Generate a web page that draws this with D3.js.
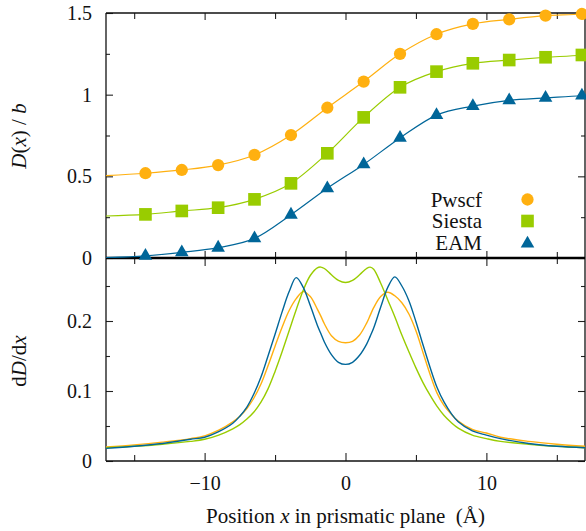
<!DOCTYPE html>
<html><head><meta charset="utf-8">
<script src="https://cdn.jsdelivr.net/npm/d3@7"></script>
<style>
body{margin:0;background:#fff}
svg{display:block}
</style>
</head><body>
<svg id="c" width="586" height="531"></svg>
<script>
// ---------- DATA ----------
const seriesNames = ["Pwscf", "Siesta", "EAM"];
const seriesColors = ["#ffb010", "#99cc00", "#006699"];

// top panel: D(x)/b at the marker positions
const markerX = [-14.2, -11.62, -9.04, -6.46, -3.87, -1.29, 1.29, 3.87, 6.46, 9.04, 11.62, 14.2, 16.78];
const pwscfD  = [0.519, 0.539, 0.569, 0.631, 0.753, 0.920, 1.080, 1.250, 1.370, 1.433, 1.461, 1.484, 1.494];
const siestaD = [0.267, 0.288, 0.308, 0.359, 0.457, 0.641, 0.861, 1.045, 1.141, 1.192, 1.212, 1.229, 1.243];
const eamD    = [0.013, 0.035, 0.063, 0.120, 0.265, 0.427, 0.573, 0.735, 0.875, 0.930, 0.965, 0.980, 0.995];

// fitted curve values at the plot edges
const edgeX      = [-17, 17];
const pwscfEdge  = [0.504, 1.497];
const siestaEdge = [0.257, 1.245];
const eamEdge    = [0.002, 0.997];

// bottom panel: dD/dx
const derivX = [-17, -15, -13, -11, -10, -9, -8, -7.5, -7, -6.5, -6, -5.5, -5, -4.5, -4, -3.5, -3, -2.5, -2, -1.75, -1.5, -1, -0.5, 0,
                0.5, 1, 1.5, 1.75, 2, 2.5, 3, 3.5, 4, 4.5, 5, 5.5, 6, 6.5, 7, 7.5, 8, 9, 10, 11, 13, 15, 17];
const pwscfDeriv = [0.020, 0.023, 0.027, 0.032, 0.036, 0.044, 0.056, 0.064, 0.075, 0.090, 0.110, 0.136, 0.164, 0.191, 0.215, 0.232, 0.242, 0.235, 0.217, 0.207, 0.196, 0.179, 0.171, 0.169,
                    0.171, 0.180, 0.197, 0.208, 0.219, 0.235, 0.241, 0.236, 0.226, 0.210, 0.186, 0.155, 0.124, 0.097, 0.079, 0.067, 0.057, 0.045, 0.040, 0.034, 0.028, 0.024, 0.021];
const siestaDeriv = [0.019, 0.021, 0.024, 0.028, 0.031, 0.037, 0.046, 0.052, 0.060, 0.070, 0.084, 0.103, 0.128, 0.156, 0.186, 0.216, 0.244, 0.265, 0.276, 0.277, 0.275, 0.266, 0.258, 0.255,
                     0.258, 0.266, 0.275, 0.277, 0.274, 0.254, 0.230, 0.206, 0.180, 0.156, 0.133, 0.112, 0.094, 0.078, 0.065, 0.055, 0.047, 0.037, 0.032, 0.028, 0.024, 0.021, 0.019];
const eamDeriv = [0.018, 0.021, 0.025, 0.031, 0.034, 0.042, 0.054, 0.064, 0.077, 0.096, 0.120, 0.150, 0.181, 0.213, 0.242, 0.262, 0.248, 0.222, 0.194, 0.182, 0.170, 0.152, 0.141, 0.138,
                  0.141, 0.151, 0.167, 0.178, 0.190, 0.220, 0.248, 0.263, 0.250, 0.229, 0.199, 0.166, 0.134, 0.105, 0.084, 0.068, 0.056, 0.043, 0.037, 0.032, 0.025, 0.021, 0.019];

// ticks
const xMajor = [-10, 0, 10];
const xMinor = [-15, -5, 5, 15];
const yTopMajor = [0, 0.5, 1, 1.5];
const yTopMinor = [0.25, 0.75, 1.25];
const yBotMajor = [0, 0.1, 0.2];
const yBotMinor = [0.05, 0.15, 0.25];

// ---------- LAYOUT ----------
const SERIF = "'Liberation Serif'";
const L = 106, R = 585, T = 13, M = 258, B = 461;
const svg = d3.select("#c");

const x  = d3.scaleLinear().domain([-17, 17]).range([L, R]);
const yT = d3.scaleLinear().domain([0, 1.5]).range([M, T]);
const yB = d3.scaleLinear().domain([0, 0.29]).range([B, M]);

const defs = svg.append("defs");
defs.append("clipPath").attr("id", "clipT").append("rect").attr("x", L).attr("y", T).attr("width", R - L).attr("height", M - T);
defs.append("clipPath").attr("id", "clipB").append("rect").attr("x", L).attr("y", M).attr("width", R - L).attr("height", B - M);

const fmt = d => (d < 0 ? "\u2212" + Math.abs(d) : String(d));

function axis(gen, tx, ty, vals, size, pad, labels) {
  const g = svg.append("g").attr("transform", `translate(${tx},${ty})`)
    .call(gen.tickValues(vals).tickSizeInner(-size).tickSizeOuter(0).tickPadding(pad)
      .tickFormat(labels ? fmt : () => ""));
  g.select(".domain").remove();
  g.attr("font-size", 20);
  g.selectAll("line").attr("stroke", "#222").attr("stroke-width", 1.1);
  g.selectAll("text").attr("fill", "#111").style("font-family", SERIF).style("font-size", "20px");
  return g;
}

// top panel ticks
axis(d3.axisLeft(yT), L, 0, yTopMajor, 7, 14, true);
axis(d3.axisLeft(yT), L, 0, yTopMinor, 4, 14, false);
axis(d3.axisRight(yT), R, 0, yTopMajor, 7, 14, false);
axis(d3.axisRight(yT), R, 0, yTopMinor, 4, 14, false);
axis(d3.axisTop(x), 0, T, xMajor, 7, 5, false);
axis(d3.axisTop(x), 0, T, xMinor, 6, 5, false);
axis(d3.axisBottom(x), 0, M, xMajor, 7, 5, false);
axis(d3.axisBottom(x), 0, M, xMinor, 6, 5, false);
// bottom panel ticks
axis(d3.axisLeft(yB), L, 0, yBotMajor, 7, 14, true);
axis(d3.axisLeft(yB), L, 0, yBotMinor, 4, 14, false);
axis(d3.axisRight(yB), R, 0, yBotMajor, 7, 14, false);
axis(d3.axisRight(yB), R, 0, yBotMinor, 4, 14, false);
axis(d3.axisTop(x), 0, M, xMajor, 8, 5, false);
axis(d3.axisTop(x), 0, M, xMinor, 6, 5, false);
axis(d3.axisBottom(x), 0, B, xMajor, 8, 15, true);
axis(d3.axisBottom(x), 0, B, xMinor, 6, 15, false);

// frame
const frame = svg.append("g").attr("stroke", "#111").attr("fill", "none");
frame.append("line").attr("x1", L).attr("x2", R).attr("y1", T).attr("y2", T).attr("stroke-width", 1.3);
frame.append("line").attr("x1", L).attr("x2", L).attr("y1", T).attr("y2", B).attr("stroke-width", 1.3);
frame.append("line").attr("x1", R).attr("x2", R).attr("y1", T).attr("y2", B).attr("stroke-width", 1.3);
frame.append("line").attr("x1", L).attr("x2", R).attr("y1", B).attr("y2", B).attr("stroke-width", 1.3);
frame.append("line").attr("x1", L).attr("x2", R).attr("y1", M).attr("y2", M).attr("stroke-width", 2.6).attr("stroke", "#000");

// ---------- TOP PANEL ----------
const topSeries = [
  { name: "Pwscf",  vals: pwscfD,  edge: pwscfEdge,  sym: d3.symbolCircle,   size: 118 },
  { name: "Siesta", vals: siestaD, edge: siestaEdge, sym: d3.symbolSquare,   size: 160 },
  { name: "EAM",    vals: eamD,    edge: eamEdge,    sym: d3.symbolTriangle, size: 80 }
];
const topLine = d3.line().x(d => x(d[0])).y(d => yT(d[1])).curve(d3.curveMonotoneX);
const gTop = svg.append("g").attr("clip-path", "url(#clipT)");
topSeries.forEach((s, i) => {
  const pts = [[edgeX[0], s.edge[0]], ...markerX.map((mx, j) => [mx, s.vals[j]]), [edgeX[1], s.edge[1]]];
  gTop.append("path").attr("d", topLine(pts)).attr("fill", "none")
    .attr("stroke", seriesColors[i]).attr("stroke-width", 1.2);
});
const gMarks = svg.append("g");
topSeries.forEach((s, i) => {
  gMarks.selectAll(null).data(markerX.map((mx, j) => [mx, s.vals[j]])).join("path")
    .attr("transform", d => `translate(${x(d[0])},${yT(d[1])})`)
    .attr("d", d3.symbol().type(s.sym).size(s.size)())
    .attr("fill", seriesColors[i]);
});

// legend
const legY = [206.5, 228, 249.5];
const legSymY = [199.5, 221, 243.5];
const leg = svg.append("g");
topSeries.forEach((s, i) => {
  leg.append("text").attr("x", 482).attr("y", legY[i]).attr("text-anchor", "end")
    .style("font-family", SERIF).style("font-size", "21px")
    .attr("fill", "#111").text(s.name);
  leg.append("path").attr("transform", `translate(527.5,${legSymY[i]})`)
    .attr("d", d3.symbol().type(s.sym).size(s.size)()).attr("fill", seriesColors[i]);
});

// ---------- BOTTOM PANEL ----------
const derivSeries = [pwscfDeriv, siestaDeriv, eamDeriv];
const botLine = d3.line().x((d, j) => x(derivX[j])).y(d => yB(d)).curve(d3.curveCatmullRom.alpha(0.5));
const gBot = svg.append("g").attr("clip-path", "url(#clipB)");
derivSeries.forEach((vals, i) => {
  gBot.append("path").attr("d", botLine(vals)).attr("fill", "none")
    .attr("stroke", seriesColors[i]).attr("stroke-width", 1.4);
});

// ---------- AXIS LABELS ----------
function label(sel) {
  return sel.style("font-family", SERIF).style("font-size", "21px").attr("fill", "#111");
}
const yl1 = label(svg.append("text").attr("transform", "translate(26,136) rotate(-90)").attr("text-anchor", "middle"));
yl1.append("tspan").style("font-style", "italic").text("D");
yl1.append("tspan").text("(");
yl1.append("tspan").style("font-style", "italic").text("x");
yl1.append("tspan").text(")\u00A0/\u00A0");
yl1.append("tspan").style("font-style", "italic").text("b");

const yl2 = label(svg.append("text").attr("transform", "translate(26,361) rotate(-90)").attr("text-anchor", "middle"));
yl2.append("tspan").text("d");
yl2.append("tspan").style("font-style", "italic").text("D");
yl2.append("tspan").text("/d");
yl2.append("tspan").style("font-style", "italic").text("x");

const xl = label(svg.append("text").attr("x", (L + R) / 2).attr("y", 523).attr("text-anchor", "middle"))
  .style("white-space", "pre");
xl.append("tspan").text("Position ");
xl.append("tspan").style("font-style", "italic").text("x");
xl.append("tspan").text(" in prismatic plane\u00A0\u00A0(\u00C5)");
</script>
</body></html>
